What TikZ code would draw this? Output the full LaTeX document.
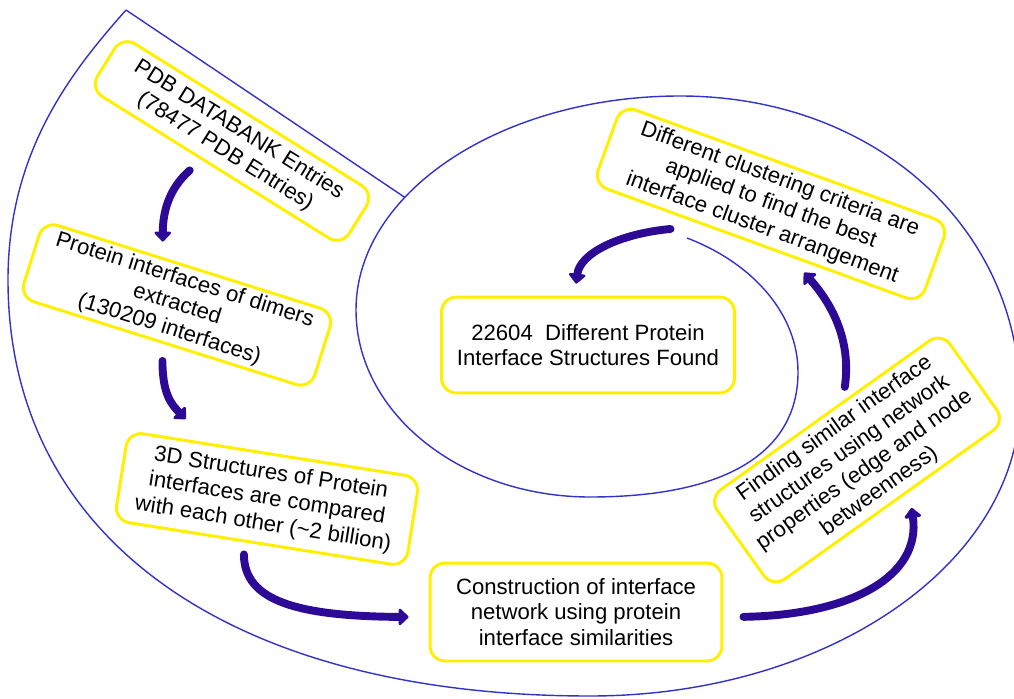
\documentclass[tikz,border=0pt]{standalone}
\usepackage{fontspec}
\setmainfont{Liberation Sans}
\usetikzlibrary{arrows.meta}
\definecolor{ColBox}{RGB}{255,240,0}
\definecolor{ColArrow}{RGB}{45,10,150}
\definecolor{ColLine}{RGB}{50,50,200}
\tikzstyle{StepBox}=[draw=ColBox,line width=1.7pt,rounded corners=0.3cm,fill=white,align=center,
inner sep=2pt,font=\fontsize{12.6}{14.6}\selectfont]
\tikzstyle{FlowArrow}=[ColArrow,line width=4.5pt,line cap=round,-{Triangle[round,length=6pt,width=11pt]}]
\tikzstyle{SpiralLine}=[ColLine,line width=0.8pt]

\begin{document}
\begin{tikzpicture}[x=0.02cm,y=-0.02cm]
    \useasboundingbox(0,0)rectangle(1014,699);
    % spiral outline, one quarter after the other
    \draw[SpiralLine](687,238)..controls(755,264)and(798,316)..(798,372)
        ..controls(798,453)and(725,497)..(590,497)
        ..controls(461,497)and(356,413)..(356,310)
        ..controls(356,192)and(502,96)..(680,96)coordinate[pos=0.35](join)
        ..controls(874,96)and(1020,227)..(1020,400)
        ..controls(1020,564)and(827,696)..(590,696)
        ..controls(231,696)and(8,539)..(8,280)
        ..controls(8,150)and(73,70)..(126,10)coordinate(tip);
    \draw[SpiralLine](tip)--(join);
    % steps
    \node[StepBox,rotate=-32,minimum width=5.94cm,minimum height=1.24cm](pdb)at(232,141)
        {PDB DATABANK Entries\\(78477 PDB Entries)};
    \node[StepBox,rotate=-17.5,minimum width=6.1cm,minimum height=1.6cm](prot)at(177,305)
        {Protein interfaces of dimers\\extracted\\(130209 interfaces)};
    \node[StepBox,rotate=-9,minimum width=5.9cm,minimum height=1.8cm](cmp)at(267,499)
        {3D Structures of Protein\\interfaces are compared\\with each other (\textasciitilde2 billion)};
    \node[StepBox,minimum width=5.84cm,minimum height=1.96cm](net)at(576,612)
        {Construction of interface\\network using protein\\interface similarities};
    \node[StepBox,rotate=35.5,minimum width=5.72cm,minimum height=2.2cm](find)at(857,460)
        {Finding similar interface\\structures using network\\properties (edge and node\\betweenness)};
    \node[StepBox,rotate=-20,minimum width=6.96cm,minimum height=1.68cm](clus)at(771,204)
        {Different clustering criteria are\\applied to find the best\\interface cluster arrangement};
    \node[StepBox,minimum width=5.86cm,minimum height=1.92cm](found)at(588,345)
        {22604\ \ Different Protein\\Interface Structures Found};
    % flow
    \draw[FlowArrow,shorten <=0.31cm,shorten >=0.31cm](pdb.244)..controls +(-33,29) and +(0,-44)..(prot.124);
    \draw[FlowArrow,shorten <=0.34cm,shorten >=0.66cm](prot.267)..controls +(0,49) and +(-38,-39)..(cmp.145);
    \draw[FlowArrow,shorten <=0.24cm,shorten >=0.4cm](cmp.251)..controls +(0,59) and +(-130,-1)..(net.182);
    \draw[FlowArrow,shorten <=0.4cm,shorten >=0.32cm](net.358)..controls +(128,-2) and +(12,84)..(find.293);
    \draw[FlowArrow,shorten <=0.28cm,shorten >=0.41cm](find.68)..controls +(9,-62) and +(40,45)..(clus.310);
    \draw[FlowArrow,shorten <=0.67cm,shorten >=0.24cm](clus.218)..controls +(-85,8) and +(5,-42)..(found.105);
\end{tikzpicture}
\end{document}
